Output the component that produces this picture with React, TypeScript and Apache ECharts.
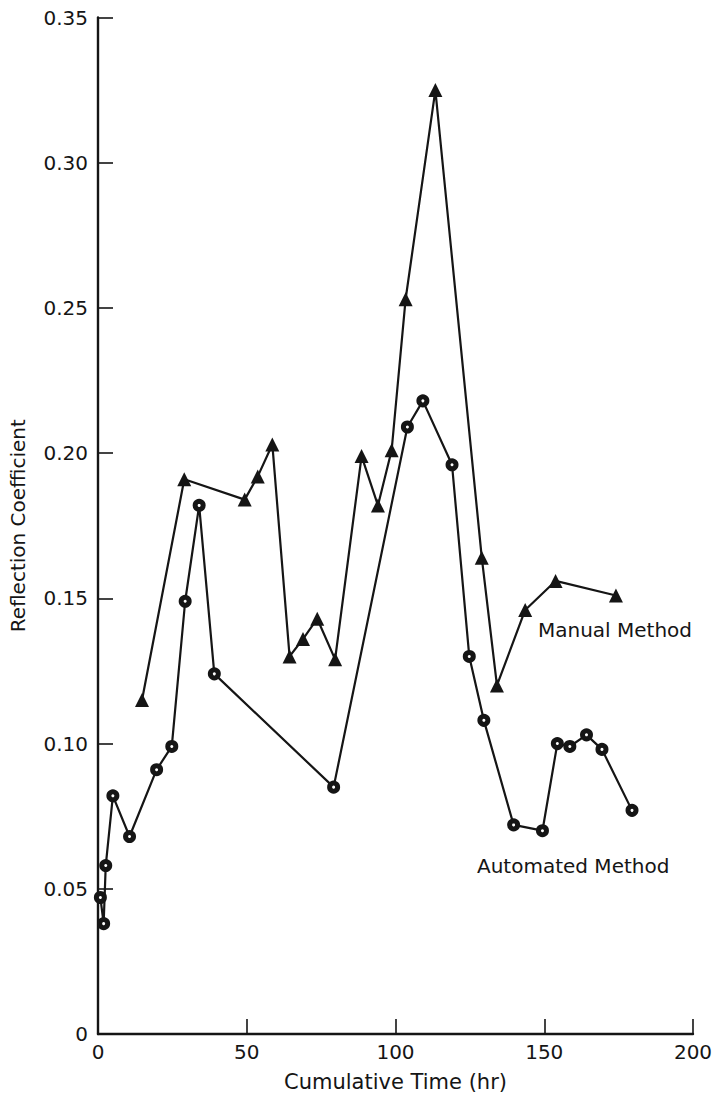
import React, { useEffect, useRef } from "react";
import * as echarts from "echarts";

const xTicks = [0, 50, 100, 150, 200];
const yTickLabels = ["0", "0.05", "0.10", "0.15", "0.20", "0.25", "0.30", "0.35"];

const manualTime = [14.8, 29.0, 49.3, 53.7, 58.6, 64.4, 68.9, 73.7, 79.7, 88.6, 94.1, 98.7, 103.4, 113.4, 129.0, 134.1, 143.6, 153.8, 174.1];
const manualValue = [0.115, 0.191, 0.184, 0.192, 0.203, 0.130, 0.136, 0.143, 0.129, 0.199, 0.182, 0.201, 0.253, 0.325, 0.164, 0.120, 0.146, 0.156, 0.151];

const autoTime = [0.8, 1.9, 2.6, 5.0, 10.6, 19.7, 24.8, 29.3, 34.0, 39.1, 79.2, 104.0, 109.2, 119.0, 124.8, 129.7, 139.7, 149.4, 154.4, 158.6, 164.2, 169.4, 179.5];
const autoValue = [0.047, 0.038, 0.058, 0.082, 0.068, 0.091, 0.099, 0.149, 0.182, 0.124, 0.085, 0.209, 0.218, 0.196, 0.130, 0.108, 0.072, 0.070, 0.100, 0.099, 0.103, 0.098, 0.077];

const FONT = "DejaVu Sans";
const INK = "#151515";

export default function App() {
  const ref = useRef<HTMLDivElement>(null);
  useEffect(() => {
    if (!ref.current) return;
    const chart = echarts.init(ref.current, null, { renderer: "svg" });
    const manual = manualTime.map((t, i) => [t, manualValue[i]]);
    const auto = autoTime.map((t, i) => [t, autoValue[i]]);
    chart.setOption({
      animation: false,
      backgroundColor: "#ffffff",
      grid: { left: 94, right: 24, top: 17.5, bottom: 56, containLabel: false },
      xAxis: {
        type: "value",
        min: xTicks[0],
        max: xTicks[xTicks.length - 1],
        interval: 50,
        name: "Cumulative Time (hr)",
        nameLocation: "middle",
        nameGap: 37,
        nameTextStyle: { fontFamily: FONT, fontSize: 21, color: INK },
        axisLine: { show: true, lineStyle: { color: INK, width: 2.4 } },
        axisTick: { show: true, inside: true, length: 15, lineStyle: { color: INK, width: 1.6 } },
        axisLabel: { fontFamily: FONT, fontSize: 20, color: INK, margin: 8 },
        splitLine: { show: false },
      },
      yAxis: {
        type: "value",
        min: 0,
        max: 0.35,
        interval: 0.05,
        name: "Reflection Coefficient",
        nameLocation: "middle",
        nameGap: 70,
        nameRotate: 90,
        nameTextStyle: { fontFamily: FONT, fontSize: 20, color: INK },
        axisLine: { show: true, lineStyle: { color: INK, width: 2.4 } },
        axisTick: { show: true, inside: true, length: 15, lineStyle: { color: INK, width: 1.6 } },
        axisLabel: {
          fontFamily: FONT,
          fontSize: 20,
          color: INK,
          margin: 10,
          formatter: (v: number) => yTickLabels[Math.round(v / 0.05)] ?? "",
        },
        splitLine: { show: false },
      },
      series: [
        {
          name: "Manual Method",
          type: "line",
          data: manual,
          symbol: "triangle",
          symbolSize: 14,
          lineStyle: { color: INK, width: 2.2 },
          itemStyle: { color: INK },
        },
        {
          name: "Automated Method",
          type: "line",
          data: auto,
          symbol: "circle",
          symbolSize: 8,
          lineStyle: { color: INK, width: 2.2 },
          itemStyle: { color: "#ffffff", borderColor: INK, borderWidth: 5 },
        },
      ],
      graphic: [
        {
          type: "text",
          left: 538,
          top: 620,
          style: { text: "Manual Method", fontFamily: FONT, fontSize: 20, fill: INK },
        },
        {
          type: "text",
          left: 477,
          top: 856,
          style: { text: "Automated Method", fontFamily: FONT, fontSize: 20, fill: INK },
        },
      ],
    });
    return () => chart.dispose();
  }, []);
  return (
    <div
      ref={ref}
      style={{ position: "fixed", left: 0, top: 0, width: 717, height: 1097, background: "#fff" }}
    />
  );
}
